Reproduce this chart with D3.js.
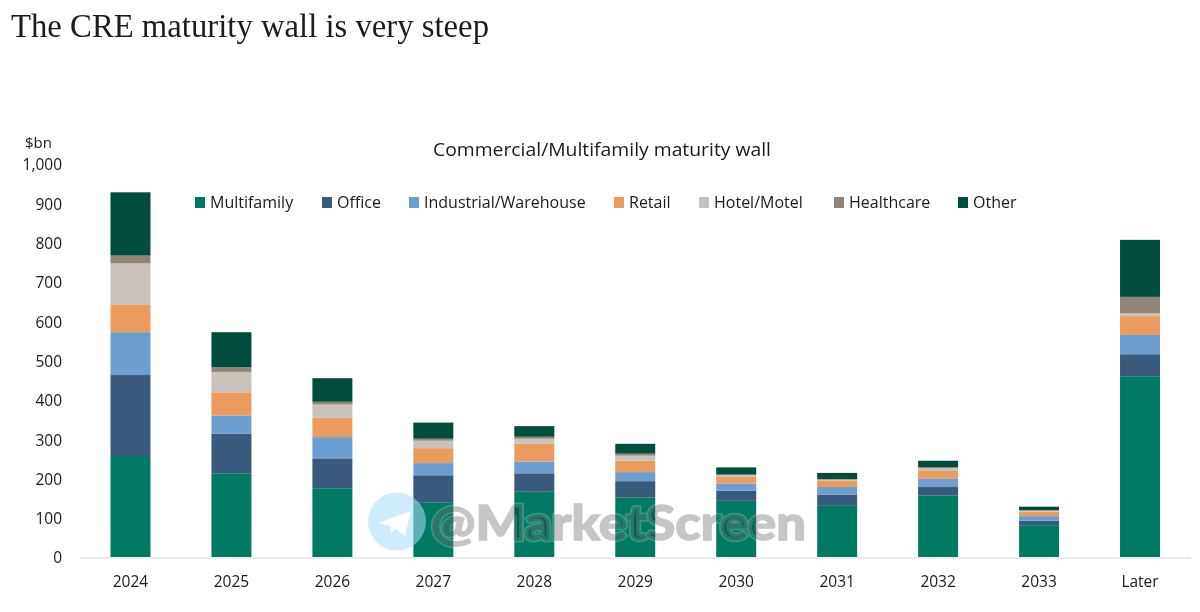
<!DOCTYPE html>
<html>
<head>
<meta charset="utf-8">
<script src="https://cdn.jsdelivr.net/npm/d3@7/dist/d3.min.js"></script>
<style>
html,body{margin:0;padding:0;background:#fff;}
svg{display:block;}
text{font-family:"Open Sans",sans-serif;fill:#1a1a1a;}
</style>
</head>
<body>
<svg id="chart" width="1200" height="612"></svg>
<script>
const categories = ["2024","2025","2026","2027","2028","2029","2030","2031","2032","2033","Later"];
const seriesNames = ["Multifamily","Office","Industrial/Warehouse","Retail","Hotel/Motel","Healthcare","Other"];
const seriesColors = ["#007a63","#395a7a","#6b9fd1","#ec9b5f","#c9c2ba","#918476","#004d3d"];
const multifamily = [257,213,175,138,166,151,143,132,156,81,460];
const office      = [206,101,76,70,47,42,26,27,22,11,56];
const industrial  = [109,46,54,31,30,23,18,19,21,12,49];
const retail      = [71,59,49,38,45,29,17,17,20,12,48];
const hotel       = [104,52,34,19,13,13,4,2,7,2,7];
const healthcare  = [20,12,7,5,5,5,2,1,3,1,42];
const other       = [161,89,60,41,27,25,18,16,16,9,145];
const yTicks = [0,100,200,300,400,500,600,700,800,900,1000];

const allSeries = [multifamily,office,industrial,retail,hotel,healthcare,other];
const rows = categories.map((c,i)=>{
  const r={category:c};
  seriesNames.forEach((n,k)=>r[n]=allSeries[k][i]);
  return r;
});

const svg = d3.select("#chart");
const x = d3.scaleBand().domain(categories).range([80,1190.5]).paddingInner(0.604).paddingOuter(0.302);
const y = d3.scaleLinear().domain([0,1000]).range([557,164]);
const color = d3.scaleOrdinal().domain(seriesNames).range(seriesColors);
const stacked = d3.stack().keys(seriesNames)(rows);

svg.append("text").attr("x",11).attr("y",37)
  .style("font-family",'"Liberation Serif",serif').style("font-size","33px").style("fill","#1c1c1c")
  .attr("textLength",478).attr("lengthAdjust","spacingAndGlyphs")
  .text("The CRE maturity wall is very steep");

svg.append("g").selectAll("g").data(stacked).join("g")
  .attr("fill",d=>color(d.key))
  .selectAll("rect").data(d=>d).join("rect")
  .attr("x",d=>x(d.data.category))
  .attr("width",x.bandwidth())
  .attr("y",d=>y(d[1]))
  .attr("height",d=>y(d[0])-y(d[1]));

const xAxis = svg.append("g").attr("transform","translate(0,557.5)")
  .call(d3.axisBottom(x).tickSize(0).tickPadding(18));
xAxis.select(".domain").attr("stroke","#d9d9d9").attr("stroke-width",1.2);
xAxis.selectAll("text").style("font-size","15.5px").attr("fill","#1a1a1a");

const yAxis = svg.append("g").attr("transform","translate(62,1)")
  .call(d3.axisLeft(y).tickValues(yTicks).tickFormat(d3.format(",")).tickSize(0).tickPadding(0));
yAxis.select(".domain").remove();
yAxis.selectAll("text").style("font-size","15.5px").attr("fill","#1a1a1a");

svg.append("text").attr("x",25).attr("y",148).style("font-size","15px").text("$bn");

svg.append("text").attr("x",602).attr("y",156).attr("text-anchor","middle")
  .attr("textLength",338).attr("lengthAdjust","spacingAndGlyphs")
  .style("font-size","19px").text("Commercial/Multifamily maturity wall");

const legendX = [195,322,409,614,699,834,958];
const legend = svg.append("g").selectAll("g").data(seriesNames).join("g")
  .attr("transform",(d,i)=>`translate(${legendX[i]},197)`);
legend.append("rect").attr("width",10).attr("height",11).attr("fill",d=>color(d));
legend.append("text").attr("x",15).attr("y",11).style("font-size","16px").text(d=>d);

// watermark
const wm = svg.append("g");
wm.append("circle").attr("cx",397).attr("cy",521.5).attr("r",29)
  .attr("fill","#a9dcf7").attr("opacity",0.55);
wm.append("path").attr("d","M378 523 L411 511 L405 536 L395 529 L391 533 L390 526 Z")
  .attr("fill","#fff").attr("opacity",0.9);
const wmText = (g)=>g.attr("x",431).attr("y",540)
  .style("font-family",'"Lato",sans-serif').style("font-weight","900").style("font-size","47px")
  .attr("textLength",375).attr("lengthAdjust","spacingAndGlyphs")
  .text("@MarketScreen");
wm.append("text").call(wmText)
  .style("fill","none").attr("stroke","#ffffff").attr("stroke-width",4.5).attr("opacity",0.22);
wm.append("text").call(wmText)
  .style("fill","#c6c6c6").attr("stroke","#c6c6c6").attr("stroke-width",1.4)
  .style("mix-blend-mode","multiply");
</script>
</body>
</html>
